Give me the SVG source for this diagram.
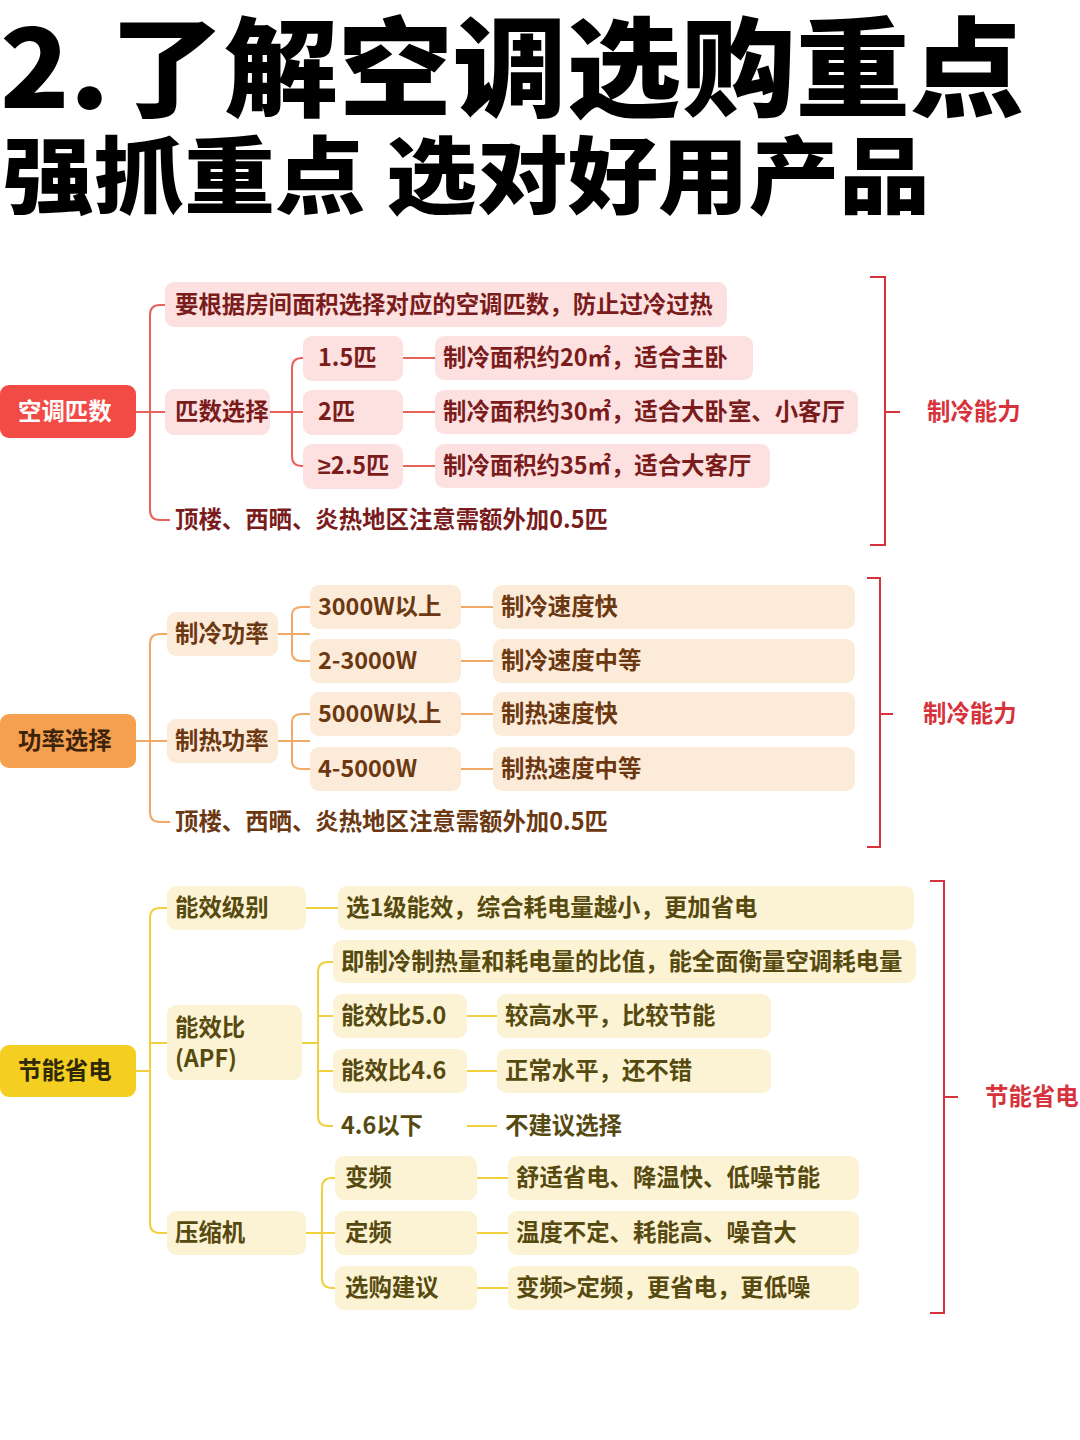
<svg xmlns="http://www.w3.org/2000/svg" width="1080" height="1440" viewBox="0 0 1080 1440">
<style>
text{font-family:"Noto Sans CJK SC","Noto Sans",sans-serif;font-weight:700;font-size:23.4px}
.title{font-weight:900;fill:#000}
.t1{font-size:108px}.t2{font-size:84px}
.ge{font-family:"Noto Sans",sans-serif}
.r{fill:#7a1c1c}.o{fill:#6b3812}.y{fill:#574a10}
.br{fill:#fde1e0}.bo{fill:#fdebd9}.by{fill:#fbf3d3}
.cr{fill:none;stroke:#e8625c;stroke-width:2}
.co{fill:none;stroke:#f0aa66;stroke-width:2}
.cy{fill:none;stroke:#f1d03e;stroke-width:2}
.bk{fill:none;stroke:#d6333c;stroke-width:2}
.lab{fill:#d6333c}
</style>
<rect width="1080" height="1440" fill="#fff"/>
<g id="title">
<text class="title t1" x="0" y="108" textLength="1024" lengthAdjust="spacingAndGlyphs">2.了解空调选购重点</text>
<text class="title t2" x="3" y="207" textLength="927" lengthAdjust="spacingAndGlyphs">强抓重点 选对好用产品</text>
</g>
<g id="connectors">
<path class="cr" d="M136,412 H165 M165,305 H160 Q150,305 150,315 V510 Q150,520 160,520 H170"/>
<path class="cr" d="M270,412 H303 M303,358 H302 Q292,358 292,368 V456 Q292,466 302,466 H303"/>
<path class="cr" d="M403,358 H435 M403,412 H435 M403,466 H435"/>
<path class="bk" d="M870,277 H885 V545 H870 M885,412 H900"/>
<path class="co" d="M136,741 H167 M167,634 H160 Q150,634 150,644 V812 Q150,822 160,822 H170"/>
<path class="co" d="M278,634 H310 M310,607 H302 Q292,607 292,615 V653 Q292,661 302,661 H310"/>
<path class="co" d="M278,741 H310 M310,714 H302 Q292,714 292,722 V761 Q292,769 302,769 H310"/>
<path class="co" d="M461,607 H493 M461,661 H493 M461,714 H493 M461,769 H493"/>
<path class="bk" d="M867,578 H880 V847 H867 M880,714 H893"/>
<path class="cy" d="M136,1071 H150 M167,908 H160 Q150,908 150,918 V1223 Q150,1233 160,1233 H167 M150,1043 H167"/>
<path class="cy" d="M306,908 H338"/>
<path class="cy" d="M302,1043 H318 M333,962 H328 Q318,962 318,972 V1116 Q318,1126 328,1126 H333 M318,1016 H333 M318,1071 H333"/>
<path class="cy" d="M467,1016 H497 M467,1071 H497 M467,1126 H497"/>
<path class="cy" d="M306,1233 H335 M335,1178 H332 Q322,1178 322,1188 V1278 Q322,1288 332,1288 H335"/>
<path class="cy" d="M477,1178 H508 M477,1233 H508 M477,1288 H508"/>
<path class="bk" d="M930,881 H944 V1313 H930 M944,1097 H958"/>
</g>
<g id="n-kongtiaopishu"><rect x="0" y="385" width="136" height="53" rx="9" fill="#f24a44"/><text x="18" y="420" fill="#fff">空调匹数</text></g>
<g id="n-r-top"><rect class="br" x="165" y="282" width="562" height="45" rx="9"/><text class="r" x="175" y="313">要根据房间面积选择对应的空调匹数，防止过冷过热</text></g>
<g id="n-pishuxuanze"><rect class="br" x="165" y="389" width="105" height="46" rx="9"/><text class="r" x="175" y="420">匹数选择</text></g>
<g id="n-15"><rect class="br" x="303" y="336" width="100" height="45" rx="9"/><text class="r" x="318" y="366">1.5匹</text></g>
<g id="n-2"><rect class="br" x="303" y="390" width="100" height="45" rx="9"/><text class="r" x="318" y="420">2匹</text></g>
<g id="n-25"><rect class="br" x="303" y="444" width="100" height="45" rx="9"/><text class="r" x="318" y="474"><tspan class="ge">≥</tspan>2.5匹</text></g>
<g id="n-20m"><rect class="br" x="435" y="336" width="318" height="44" rx="9"/><text class="r" x="443" y="366">制冷面积约20㎡，适合主卧</text></g>
<g id="n-30m"><rect class="br" x="435" y="390" width="423" height="44" rx="9"/><text class="r" x="443" y="420">制冷面积约30㎡，适合大卧室、小客厅</text></g>
<g id="n-35m"><rect class="br" x="435" y="444" width="335" height="44" rx="9"/><text class="r" x="443" y="474">制冷面积约35㎡，适合大客厅</text></g>
<g id="n-r-bottom"><text class="r" x="175" y="528">顶楼、西晒、炎热地区注意需额外加0.5匹</text></g>
<g id="l-1"><text class="lab" x="927" y="420">制冷能力</text></g>

<g id="n-gonglvxuanze"><rect x="0" y="714" width="136" height="54" rx="9" fill="#f5a04f"/><text x="18" y="749" fill="#3d230c">功率选择</text></g>
<g id="n-zhilenggonglv"><rect class="bo" x="167" y="612" width="111" height="44" rx="9"/><text class="o" x="175" y="642">制冷功率</text></g>
<g id="n-zhiregonglv"><rect class="bo" x="167" y="719" width="111" height="44" rx="9"/><text class="o" x="175" y="749">制热功率</text></g>
<g id="n-3000"><rect class="bo" x="310" y="585" width="151" height="44" rx="9"/><text class="o" x="318" y="615">3000W以上</text></g>
<g id="n-2-3000"><rect class="bo" x="310" y="639" width="151" height="44" rx="9"/><text class="o" x="318" y="669">2-3000W</text></g>
<g id="n-5000"><rect class="bo" x="310" y="692" width="151" height="44" rx="9"/><text class="o" x="318" y="722">5000W以上</text></g>
<g id="n-4-5000"><rect class="bo" x="310" y="747" width="151" height="44" rx="9"/><text class="o" x="318" y="777">4-5000W</text></g>
<g id="n-lk"><rect class="bo" x="493" y="585" width="362" height="44" rx="9"/><text class="o" x="501" y="615">制冷速度快</text></g>
<g id="n-lz"><rect class="bo" x="493" y="639" width="362" height="44" rx="9"/><text class="o" x="501" y="669">制冷速度中等</text></g>
<g id="n-rk"><rect class="bo" x="493" y="692" width="362" height="44" rx="9"/><text class="o" x="501" y="722">制热速度快</text></g>
<g id="n-rz"><rect class="bo" x="493" y="747" width="362" height="44" rx="9"/><text class="o" x="501" y="777">制热速度中等</text></g>
<g id="n-o-bottom"><text class="o" x="175" y="830">顶楼、西晒、炎热地区注意需额外加0.5匹</text></g>
<g id="l-2"><text class="lab" x="923" y="722">制冷能力</text></g>

<g id="n-jienengshengdian"><rect x="0" y="1045" width="136" height="52" rx="9" fill="#f4cf22"/><text x="18" y="1079" fill="#2e2805">节能省电</text></g>
<g id="n-nengxiaojibie"><rect class="by" x="167" y="886" width="139" height="44" rx="9"/><text class="y" x="175" y="916">能效级别</text></g>
<g id="n-xuan1"><rect class="by" x="338" y="886" width="576" height="44" rx="9"/><text class="y" x="346" y="916">选1级能效，综合耗电量越小，更加省电</text></g>
<g id="n-apf"><rect class="by" x="167" y="1005" width="135" height="75" rx="9"/><text class="y" x="175" y="1036">能效比</text><text class="y" x="175" y="1067">(APF)</text></g>
<g id="n-jizhileng"><rect class="by" x="333" y="940" width="583" height="43" rx="9"/><text class="y" x="341" y="970">即制冷制热量和耗电量的比值，能全面衡量空调耗电量</text></g>
<g id="n-50"><rect class="by" x="333" y="994" width="134" height="44" rx="9"/><text class="y" x="341" y="1024">能效比5.0</text></g>
<g id="n-46"><rect class="by" x="333" y="1049" width="134" height="44" rx="9"/><text class="y" x="341" y="1079">能效比4.6</text></g>
<g id="n-46x"><text class="y" x="341" y="1134">4.6以下</text></g>
<g id="n-jiaogao"><rect class="by" x="497" y="994" width="274" height="44" rx="9"/><text class="y" x="505" y="1024">较高水平，比较节能</text></g>
<g id="n-zhengchang"><rect class="by" x="497" y="1049" width="274" height="44" rx="9"/><text class="y" x="505" y="1079">正常水平，还不错</text></g>
<g id="n-bujianyi"><text class="y" x="505" y="1134">不建议选择</text></g>
<g id="n-yasuoji"><rect class="by" x="167" y="1211" width="139" height="44" rx="9"/><text class="y" x="175" y="1241">压缩机</text></g>
<g id="n-bianpin"><rect class="by" x="335" y="1156" width="142" height="44" rx="9"/><text class="y" x="345" y="1186">变频</text></g>
<g id="n-dingpin"><rect class="by" x="335" y="1211" width="142" height="44" rx="9"/><text class="y" x="345" y="1241">定频</text></g>
<g id="n-xuangou"><rect class="by" x="335" y="1266" width="142" height="44" rx="9"/><text class="y" x="345" y="1296">选购建议</text></g>
<g id="n-shushi"><rect class="by" x="508" y="1156" width="351" height="44" rx="9"/><text class="y" x="516" y="1186">舒适省电、降温快、低噪节能</text></g>
<g id="n-wendu"><rect class="by" x="508" y="1211" width="351" height="44" rx="9"/><text class="y" x="516" y="1241">温度不定、耗能高、噪音大</text></g>
<g id="n-jianyi"><rect class="by" x="508" y="1266" width="351" height="44" rx="9"/><text class="y" x="516" y="1296">变频&gt;定频，更省电，更低噪</text></g>
<g id="l-3"><text class="lab" x="985" y="1105">节能省电</text></g>
</svg>
